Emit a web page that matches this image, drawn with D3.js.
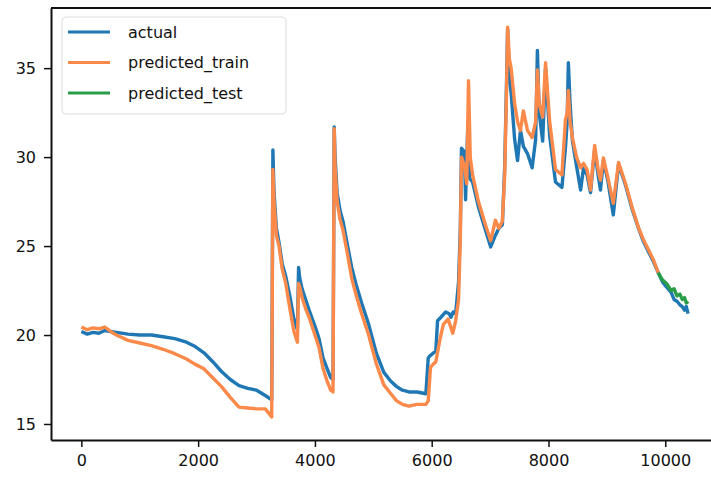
<!DOCTYPE html>
<html>
<head>
<meta charset="utf-8">
<script src="https://cdn.jsdelivr.net/npm/d3@7"></script>
<style>
  body { margin: 0; background: #fff; }
  svg { display: block; font-family: "DejaVu Sans", sans-serif; }
</style>
</head>
<body>
<div id="chart"></div>
<script>
// values
const actualX = [0,100,200,300,400,500,600,800,1000,1200,1400,1600,1800,1950,2100,2250,2400,2550,2700,2850,3000,3150,3260,3280,3300,3340,3385,3440,3500,3570,3640,3700,3720,3740,3780,3850,3900,4000,4070,4140,4210,4270,4310,4330,4345,4380,4430,4480,4560,4630,4700,4800,4920,5050,5180,5300,5400,5500,5610,5750,5900,5940,5960,6070,6100,6130,6240,6300,6330,6370,6410,6460,6490,6510,6560,6580,6620,6650,6700,6800,6920,7010,7090,7150,7210,7250,7280,7300,7330,7360,7420,7470,7520,7570,7640,7720,7780,7810,7840,7900,7950,8020,8120,8230,8290,8320,8340,8370,8410,8480,8550,8600,8660,8720,8790,8850,8890,8940,9020,9110,9200,9320,9430,9540,9620,9710,9800,9880,9950,10020,10100,10150,10200,10250,10290,10330,10360,10390];
const actualY = [20.2,20.05,20.15,20.1,20.25,20.2,20.15,20.05,20.0,20.0,19.9,19.8,19.6,19.35,19.0,18.5,17.95,17.5,17.15,17.0,16.9,16.6,16.35,30.4,28.0,26.0,25.2,24.0,23.3,22.2,20.9,20.3,23.8,23.2,22.6,21.9,21.4,20.5,19.8,18.7,18.1,17.6,17.5,31.7,30.0,28.0,27.0,26.4,25.0,23.8,22.9,21.8,20.6,19.0,17.9,17.4,17.1,16.9,16.8,16.8,16.7,18.7,18.8,19.1,20.8,20.9,21.3,21.2,21.0,21.3,21.2,23.0,26.0,30.5,30.3,27.6,32.0,28.8,28.6,27.2,25.9,24.95,25.6,26.0,26.2,29.5,34.0,37.2,34.5,33.6,31.0,29.8,31.5,30.6,30.2,29.4,31.0,36.0,32.5,30.9,35.0,31.2,28.6,28.3,30.5,32.0,35.3,33.0,30.9,29.5,28.15,29.4,29.0,28.0,30.4,29.0,28.15,29.8,28.6,26.75,29.6,28.4,27.1,26.0,25.3,24.7,24.1,23.5,23.0,22.7,22.4,22.0,21.9,21.7,21.6,21.4,21.6,21.2];

const trainX = [0,100,200,300,400,500,600,800,1000,1200,1400,1600,1800,1950,2100,2250,2400,2550,2700,2850,3000,3150,3260,3280,3300,3340,3385,3440,3500,3570,3640,3700,3720,3740,3780,3850,3900,4000,4070,4140,4210,4270,4310,4330,4345,4380,4430,4480,4560,4630,4700,4800,4920,5050,5180,5300,5400,5500,5610,5750,5900,5940,5980,6070,6150,6200,6280,6360,6410,6460,6490,6510,6560,6600,6630,6660,6700,6800,6920,7010,7090,7150,7210,7250,7280,7300,7330,7360,7420,7470,7520,7570,7640,7720,7780,7810,7840,7900,7950,8020,8120,8230,8290,8320,8340,8370,8410,8480,8550,8600,8660,8720,8790,8850,8890,8940,9020,9110,9200,9320,9430,9540,9620,9710,9800,9880];
const trainY = [20.45,20.3,20.4,20.35,20.45,20.2,20.0,19.7,19.55,19.4,19.2,18.95,18.65,18.35,18.1,17.6,17.1,16.5,15.95,15.9,15.85,15.85,15.4,29.3,27.5,25.6,25.0,23.7,22.9,21.5,20.2,19.6,22.9,22.7,22.1,21.4,21.0,20.0,19.3,18.1,17.4,16.9,16.8,31.6,29.5,27.5,26.5,25.9,24.5,23.2,22.3,21.2,20.0,18.4,17.2,16.7,16.3,16.1,16.0,16.1,16.1,16.3,18.2,18.5,19.9,20.6,20.9,20.1,20.8,22.0,25.5,30.0,29.5,28.5,34.3,30.0,29.0,27.5,26.2,25.3,26.45,26.0,26.4,29.0,33.5,37.3,35.5,35.0,33.0,32.0,31.5,32.6,31.5,31.1,32.0,34.9,33.0,32.25,35.3,32.0,29.3,29.0,32.1,32.5,33.75,32.0,31.1,30.0,29.4,29.65,29.3,28.15,30.65,29.3,28.7,29.95,28.8,27.4,29.7,28.5,27.2,26.05,25.4,24.8,24.2,23.5];

const testX = [9880,9950,10020,10100,10150,10200,10250,10290,10330,10360,10390];
const testY = [23.5,23.1,22.9,22.5,22.6,22.2,22.3,22.0,22.1,21.8,21.9];

const xTicks = [0,2000,4000,6000,8000,10000];
const yTicks = [15,20,25,30,35];
const seriesNames = ["actual","predicted_train","predicted_test"];
const seriesColors = ["#1f77b4","#fb8a4a","#2a9d48"];

const width = 711, height = 477;
const margin = {left: 51, top: 8, right: -8, bottom: 37};

const svg = d3.select("#chart").append("svg")
    .attr("width", width)
    .attr("height", height);

let x = d3.scaleLinear().domain([-520, 10920]).range([margin.left, width - margin.right]);
let y = d3.scaleLinear().domain([14.1, 38.38]).range([height - margin.bottom, margin.top]);

let line = d3.line().x(d => x(d[0])).y(d => y(d[1]));

let plot = svg.append("g");
let series = [
    d3.zip(actualX, actualY),
    d3.zip(trainX, trainY),
    d3.zip(testX, testY)
];
series.forEach(function(s, i){
    plot.append("path")
        .datum(s)
        .attr("fill", "none")
        .attr("stroke", seriesColors[i])
        .attr("stroke-width", 3.4)
        .attr("stroke-linejoin", "round")
        .attr("d", line);
});

// axes
let xAxis = svg.append("g")
    .attr("transform", "translate(0," + (height - margin.bottom) + ")")
    .call(d3.axisBottom(x).tickValues(xTicks).tickFormat(d3.format("d")).tickSize(7).tickPadding(8).tickSizeOuter(0));
let yAxis = svg.append("g")
    .attr("transform", "translate(" + margin.left + ",0)")
    .call(d3.axisLeft(y).tickValues(yTicks).tickSize(7).tickPadding(8).tickSizeOuter(0));

[xAxis, yAxis].forEach(function(a){
    a.select(".domain").attr("stroke", "#111").attr("stroke-width", 2);
    a.selectAll(".tick line").attr("stroke", "#111").attr("stroke-width", 1.5);
    a.selectAll(".tick text").attr("fill", "#111").style("font-size", "16px").style("font-family", "DejaVu Sans");
});

// top spine
svg.append("line")
    .attr("x1", margin.left).attr("x2", width)
    .attr("y1", margin.top).attr("y2", margin.top)
    .attr("stroke", "#111").attr("stroke-width", 2);

// legend
let legend = svg.append("g").attr("transform", "translate(62,17)");
legend.append("rect")
    .attr("width", 224).attr("height", 97)
    .attr("rx", 4)
    .attr("fill", "#fff").attr("fill-opacity", 0.85)
    .attr("stroke", "#ddd").attr("stroke-width", 1);
seriesNames.forEach(function(name, i){
    let row = legend.append("g").attr("transform", "translate(0," + (15 + i * 30.5) + ")");
    row.append("line")
        .attr("x1", 6).attr("x2", 48)
        .attr("stroke", seriesColors[i]).attr("stroke-width", 3);
    row.append("text")
        .attr("x", 66).attr("dy", "0.35em")
        .attr("fill", "#111")
        .style("font-size", "16px")
        .text(name);
});
</script>
</body>
</html>
